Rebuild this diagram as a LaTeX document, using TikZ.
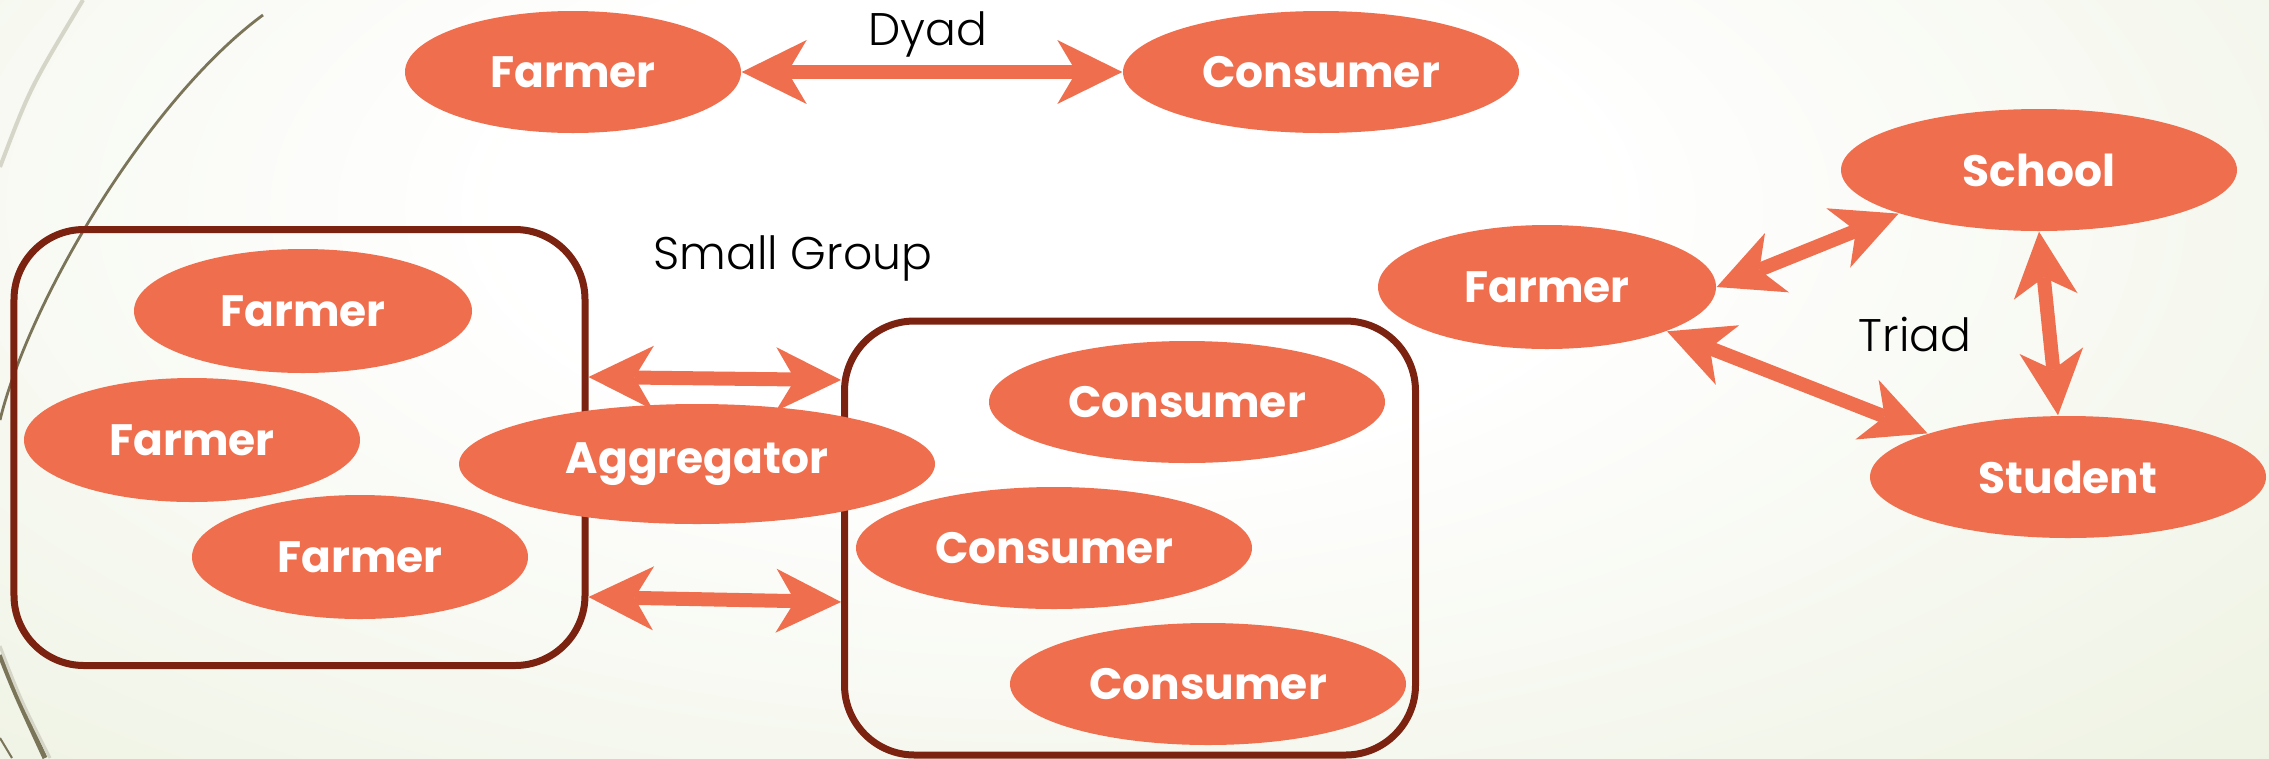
\documentclass[tikz,border=0pt]{standalone}
\usepackage{fontspec}
\setmainfont{Poppins}
\newfontfamily\captionfont{Poppins Light}
\usetikzlibrary{shapes.geometric,arrows.meta}

\definecolor{coral}{HTML}{EF6E4E}
\definecolor{rust}{HTML}{7B2210}
\definecolor{paleleaf}{HTML}{E0E8CB}
\definecolor{stemdark}{HTML}{7A7459}
\definecolor{stemlight}{HTML}{D6D6C8}

\pgfdeclareradialshading{glow}{\pgfpoint{0bp}{0bp}}{color(0bp)=(white); color(8bp)=(white); color(28bp)=(paleleaf!65!white); color(50bp)=(paleleaf)}

\begin{document}
\begin{tikzpicture}[
    actor/.style={ellipse, fill=coral, text=white, inner sep=0pt, minimum width=3.96cm, minimum height=1.22cm, font=\fontsize{12.5}{14}\selectfont\bfseries},
    group/.style={rectangle, draw=rust, line width=0.7mm, rounded corners=7mm, minimum width=5.71cm, minimum height=4.36cm},
    biarrow/.style={<->, >={Stealth[length=6.5mm, width=6.4mm, inset=1.9mm, line width=0pt]}, draw=coral, line width=1.4mm},
    caption/.style={font=\fontsize{13}{15}\selectfont\captionfont, text=black}
]
\useasboundingbox (0,0) rectangle (22.69,7.58);

% Background and stems
\shade[shading=glow] (-6.5,-2.5) rectangle (27.5,13.5);
\draw[stemlight, line width=0.4mm] (0,5.91) .. controls (0.3,6.7) .. (0.83,7.58);
\draw[stemdark, line width=0.28mm] (2.63,7.43) .. controls (1.5,6.6) and (0.3,4.6) .. (0,3.38);
\draw[stemdark, line width=0.5mm] (0,1.03) .. controls (0.15,0.65) .. (0.45,0);
\draw[stemlight, line width=0.3mm] (0,1.12) .. controls (0.2,0.6) .. (0.5,0);
\draw[stemdark, line width=0.2mm] (0,0.2) -- (0.12,0);

% Group frames
\node[group] (groupL) at (2.995,3.105) {};
\node[group, minimum height=4.34cm] (groupR) at (11.30,2.20) {};

% Connectors
\draw[biarrow] ([yshift=7.05mm]groupL.east) -- ([yshift=15.8mm]groupR.west);
\draw[biarrow] ([yshift=-14.95mm]groupL.east) -- ([yshift=-6.4mm]groupR.west);

% Dyad
\node[actor, minimum width=3.36cm] (farmerA) at (5.73,6.86) {Farmer};
\node[actor] (consumerA) at (13.21,6.86) {Consumer};
\draw[biarrow] (farmerA) -- (consumerA);
\node[caption] (dyad) at (9.28,7.24) {Dyad};

% Small group
\node[caption] (small) at (7.93,5.00) {Small Group};
\node[actor, minimum width=3.38cm, minimum height=1.24cm] (farmerB) at (3.03,4.47) {Farmer};
\node[actor, minimum width=3.36cm, minimum height=1.24cm] (farmerC) at (1.92,3.18) {Farmer};
\node[actor, minimum width=3.36cm, minimum height=1.24cm] (farmerD) at (3.60,2.01) {Farmer};
\node[actor, minimum width=4.76cm, minimum height=1.20cm] (aggregator) at (6.97,2.94) {Aggregator};
\node[actor] (consumerB) at (11.87,3.56) {Consumer};
\node[actor] (consumerC) at (10.54,2.10) {Consumer};
\node[actor] (consumerD) at (12.08,0.74) {Consumer};

% Triad
\node[actor, minimum width=3.38cm, minimum height=1.24cm] (farmerT) at (15.47,4.71) {Farmer};
\node[actor] (school) at (20.39,5.88) {School};
\node[actor] (student) at (20.68,2.81) {Student};
\node[caption] (triad) at (19.15,4.24) {Triad};
\draw[biarrow] (farmerT.east) -- (school.south west);
\draw[biarrow] (farmerT.south east) -- (student.north west);
\draw[biarrow] (school.south) -- ([xshift=-1mm]student.north);

\end{tikzpicture}
\end{document}
